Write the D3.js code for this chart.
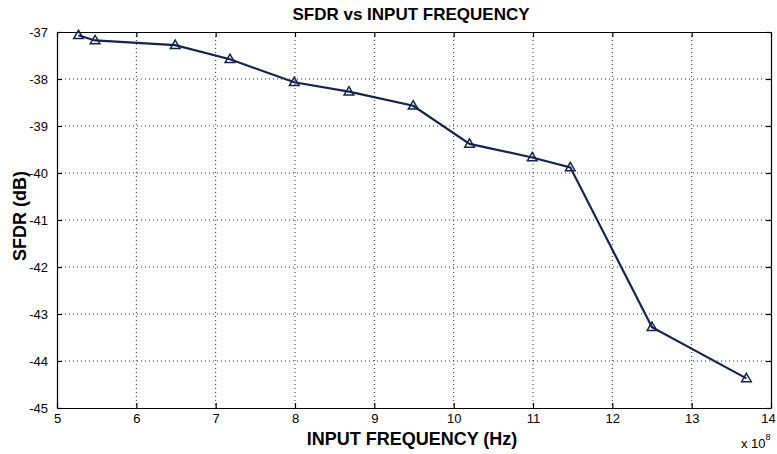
<!DOCTYPE html>
<html>
<head>
<meta charset="utf-8">
<script src="https://d3js.org/d3.v7.min.js"></script>
<style>
  body { margin: 0; background: #fff; }
  text { font-family: "Liberation Sans", Arial, sans-serif; }
</style>
</head>
<body>
<div id="chart"></div>
<script>
var freq = [5.27, 5.48, 6.49, 7.18, 7.99, 8.68, 9.49, 10.2, 10.99, 11.47, 12.5, 13.69];
var sfdr = [-37.07, -37.18, -37.28, -37.58, -38.07, -38.27, -38.57, -39.38, -39.67, -39.88, -43.28, -44.37];
var xTicks = [5, 6, 7, 8, 9, 10, 11, 12, 13, 14];
var yTicks = [-37, -38, -39, -40, -41, -42, -43, -44, -45];

var width = 777, height = 454;
var margin = {left: 57, right: 6, top: 32, bottom: 46};
var lineColor = "#14234f";

var svg = d3.select("#chart").append("svg")
  .attr("width", width)
  .attr("height", height);

var x = d3.scaleLinear().domain([5, 14]).range([margin.left, width - margin.right]);
var y = d3.scaleLinear().domain([-45, -37]).range([height - margin.bottom, margin.top]);

// plain hyphen like matlab, not the unicode minus
var fmt = function(d) { return String(d); };

// grid
svg.append("g").selectAll("line").data(xTicks.slice(1, -1))
  .enter().append("line")
  .attr("x1", d => x(d)).attr("x2", d => x(d))
  .attr("y1", y(-37)).attr("y2", y(-45))
  .attr("stroke", "#333")
  .attr("stroke-width", 1)
  .attr("stroke-dasharray", "1,3");

svg.append("g").selectAll("line").data(yTicks.slice(1, -1))
  .enter().append("line")
  .attr("x1", x(5)).attr("x2", x(14))
  .attr("y1", d => y(d)).attr("y2", d => y(d))
  .attr("stroke", "#333")
  .attr("stroke-width", 1)
  .attr("stroke-dasharray", "1,3");

// axes, ticks pointing inward
var xAxis = svg.append("g")
  .attr("transform", "translate(0," + y(-45) + ")")
  .call(d3.axisBottom(x).tickValues(xTicks).tickFormat(fmt).tickSizeInner(-5).tickSizeOuter(0).tickPadding(6));
var xTop = svg.append("g")
  .attr("transform", "translate(0," + y(-37) + ")")
  .call(d3.axisTop(x).tickValues(xTicks).tickSizeInner(-5).tickSizeOuter(0).tickFormat(""));
var yAxis = svg.append("g")
  .attr("transform", "translate(" + x(5) + ",0)")
  .call(d3.axisLeft(y).tickValues(yTicks).tickFormat(fmt).tickSizeInner(-5).tickSizeOuter(0).tickPadding(9));
var yRight = svg.append("g")
  .attr("transform", "translate(" + x(14) + ",0)")
  .call(d3.axisRight(y).tickValues(yTicks).tickSizeInner(-5).tickSizeOuter(0).tickFormat(""));

[xAxis, xTop, yAxis, yRight].forEach(function(a) {
  a.selectAll("path").attr("stroke", "#000").attr("stroke-width", 1.2);
  a.selectAll("line").attr("stroke", "#000").attr("stroke-width", 1.2);
  a.selectAll("text").style("font-size", "13px").attr("fill", "#000");
});
yAxis.selectAll("text").attr("dy", "0.35em");
// keep the last label inside the window
xAxis.selectAll(".tick text").filter(d => d === 14).attr("dx", -3);

// line
var line = d3.line().x(function(d, i) { return x(freq[i]); }).y(function(d) { return y(d); });
svg.append("path")
  .datum(sfdr)
  .attr("d", line)
  .attr("fill", "none")
  .attr("stroke", lineColor)
  .attr("stroke-width", 2.2);

// triangle markers
var tri = d3.symbol().type(d3.symbolTriangle).size(40);
svg.append("g").selectAll("path").data(sfdr)
  .enter().append("path")
  .attr("d", tri)
  .attr("transform", function(d, i) { return "translate(" + x(freq[i]) + "," + (y(d) + 0.5) + ")"; })
  .attr("fill", "none")
  .attr("stroke", lineColor)
  .attr("stroke-width", 1.5);

// title and labels
svg.append("text")
  .attr("x", 411).attr("y", 20)
  .attr("text-anchor", "middle")
  .style("font-size", "17px").style("font-weight", "bold")
  .text("SFDR vs INPUT FREQUENCY");

svg.append("text")
  .attr("x", 412).attr("y", 445)
  .attr("text-anchor", "middle")
  .style("font-size", "18px").style("font-weight", "bold")
  .text("INPUT FREQUENCY (Hz)");

svg.append("text")
  .attr("transform", "translate(26," + 216 + ")rotate(-90)")
  .attr("text-anchor", "middle")
  .style("font-size", "18px").style("font-weight", "bold")
  .text("SFDR (dB)");

var exp = svg.append("text")
  .attr("x", 741).attr("y", 448)
  .style("font-size", "13px");
exp.append("tspan").text("x 10");
exp.append("tspan").attr("dy", -8).style("font-size", "9px").text("8");
</script>
</body>
</html>
